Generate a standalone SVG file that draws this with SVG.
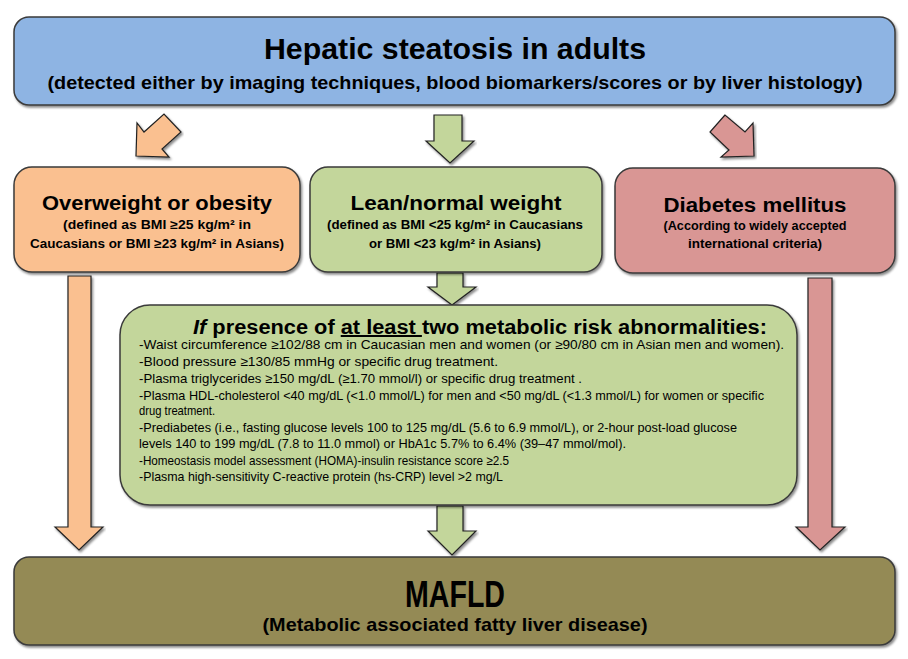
<svg xmlns="http://www.w3.org/2000/svg" width="908" height="659" viewBox="0 0 908 659">
<style>
.box{stroke:#3a3a3a;stroke-width:1.5;filter:url(#sh)}
.arr{stroke:#222;stroke-width:1.2;stroke-linejoin:miter;filter:url(#sh)}
.or{fill:#FAC090}.gr{fill:#C3D69B}.rd{fill:#D99694}.bl{fill:#8EB4E3}.ol{fill:#948A54}
text{font-family:"Liberation Sans",Arial,sans-serif;font-weight:bold;fill:#000}
.t1{font-size:30px}
.t2{font-size:19px}
.h{font-size:20px}
.s{font-size:12.5px}
.b{font-size:12.8px;font-weight:normal}
.c{text-anchor:middle}
</style>
<defs>
<filter id="sh" x="-5%" y="-5%" width="110%" height="115%">
<feDropShadow dx="1.5" dy="2" stdDeviation="1.2" flood-color="#000" flood-opacity="0.45"/>
</filter>
</defs>

<g id="connectors">
<polygon class="arr or" points="136,156 137,123 144,132 164,114 181,132 162,149 169,157"/>
<polygon class="arr gr" points="434,115 462,115 462,141 474,141 450,163 426,141 434,141"/>
<polygon class="arr rd" points="725,115 710,132 729,150 721,157 754,156 753,123 745,132"/>
<polygon class="arr or" points="68,276 91,276 91,527 103,527 79,550 55,527 68,527"/>
<polygon class="arr rd" points="808,278 832,278 832,527 845,527 820,550 796,527 808,527"/>
<polygon class="arr gr" points="437,273 463,273 463,287 476,287 452,305 428,287 437,287"/>
<polygon class="arr gr" points="437,506 463,506 463,531 476,531 452,555 428,531 437,531"/>
</g>

<g id="top">
<rect class="box bl" x="14" y="17" width="881" height="88" rx="15"/>
<text class="t1 c" x="455" y="59" textLength="382" lengthAdjust="spacingAndGlyphs">Hepatic steatosis in adults</text>
<text class="t2 c" x="455" y="89" textLength="815" lengthAdjust="spacingAndGlyphs">(detected either by imaging techniques, blood biomarkers/scores  or by liver histology)</text>
</g>

<g id="overweight">
<rect class="box or" x="14" y="167" width="286" height="105" rx="18"/>
<text class="h c" x="157" y="210" textLength="230" lengthAdjust="spacingAndGlyphs">Overweight or obesity</text>
<text class="s c" x="157" y="229" textLength="188" lengthAdjust="spacingAndGlyphs">(defined as BMI ≥25 kg/m² in</text>
<text class="s c" x="157" y="248" textLength="254" lengthAdjust="spacingAndGlyphs">Caucasians or BMI ≥23 kg/m² in Asians)</text>
</g>

<g id="lean">
<rect class="box gr" x="310" y="167" width="292" height="105" rx="18"/>
<text class="h c" x="456" y="210" textLength="211" lengthAdjust="spacingAndGlyphs">Lean/normal weight</text>
<text class="s c" x="455" y="229" textLength="256" lengthAdjust="spacingAndGlyphs">(defined as BMI &lt;25 kg/m² in Caucasians</text>
<text class="s c" x="455" y="248" textLength="172" lengthAdjust="spacingAndGlyphs">or BMI &lt;23 kg/m² in Asians)</text>
</g>

<g id="diabetes">
<rect class="box rd" x="615" y="168" width="280" height="105" rx="18"/>
<text class="h c" x="755" y="212" textLength="183" lengthAdjust="spacingAndGlyphs">Diabetes mellitus</text>
<text class="s c" x="755" y="230" textLength="183" lengthAdjust="spacingAndGlyphs">(According to widely accepted</text>
<text class="s c" x="755" y="248" textLength="134" lengthAdjust="spacingAndGlyphs">international criteria)</text>
</g>

<g id="criteria">
<rect class="box gr" x="120" y="305" width="677" height="200" rx="30"/>
<text class="h" x="193" y="334" textLength="574" lengthAdjust="spacingAndGlyphs"><tspan font-style="italic">If</tspan> presence of <tspan text-decoration="underline">at least </tspan>two metabolic risk abnormalities:</text>
<text class="b" x="139" y="349" textLength="645" lengthAdjust="spacingAndGlyphs">-Waist circumference ≥102/88 cm in Caucasian men and women (or ≥90/80 cm in Asian men and women).</text>
<text class="b" x="139" y="366" textLength="359" lengthAdjust="spacingAndGlyphs">-Blood pressure ≥130/85 mmHg or specific drug treatment.</text>
<text class="b" x="139" y="383" textLength="443" lengthAdjust="spacingAndGlyphs">-Plasma triglycerides ≥150 mg/dL (≥1.70 mmol/l) or specific drug treatment .</text>
<text class="b" x="139" y="400" textLength="625" lengthAdjust="spacingAndGlyphs">-Plasma HDL-cholesterol &lt;40 mg/dL (&lt;1.0 mmol/L) for men and &lt;50 mg/dL (&lt;1.3 mmol/L) for women or specific</text>
<text class="b" x="139" y="415" textLength="76" lengthAdjust="spacingAndGlyphs">drug treatment.</text>
<text class="b" x="139" y="432" textLength="598" lengthAdjust="spacingAndGlyphs">-Prediabetes (i.e., fasting glucose levels 100 to 125 mg/dL (5.6 to 6.9 mmol/L),  or 2-hour post-load glucose</text>
<text class="b" x="139" y="448" textLength="487" lengthAdjust="spacingAndGlyphs">levels 140 to 199 mg/dL (7.8 to 11.0 mmol) or HbA1c 5.7% to 6.4% (39–47 mmol/mol).</text>
<text class="b" x="139" y="465" textLength="370" lengthAdjust="spacingAndGlyphs">-Homeostasis model assessment (HOMA)-insulin resistance score ≥2.5</text>
<text class="b" x="139" y="481" textLength="364" lengthAdjust="spacingAndGlyphs">-Plasma high-sensitivity C-reactive protein (hs-CRP) level &gt;2 mg/L</text>
</g>

<g id="mafld">
<rect class="box ol" x="14" y="557" width="881" height="88" rx="15"/>
<text class="c" x="455" y="607" font-size="37" textLength="100" lengthAdjust="spacingAndGlyphs">MAFLD</text>
<text class="t2 c" x="455" y="631" textLength="385" lengthAdjust="spacingAndGlyphs">(Metabolic associated fatty liver disease)</text>
</g>
</svg>
